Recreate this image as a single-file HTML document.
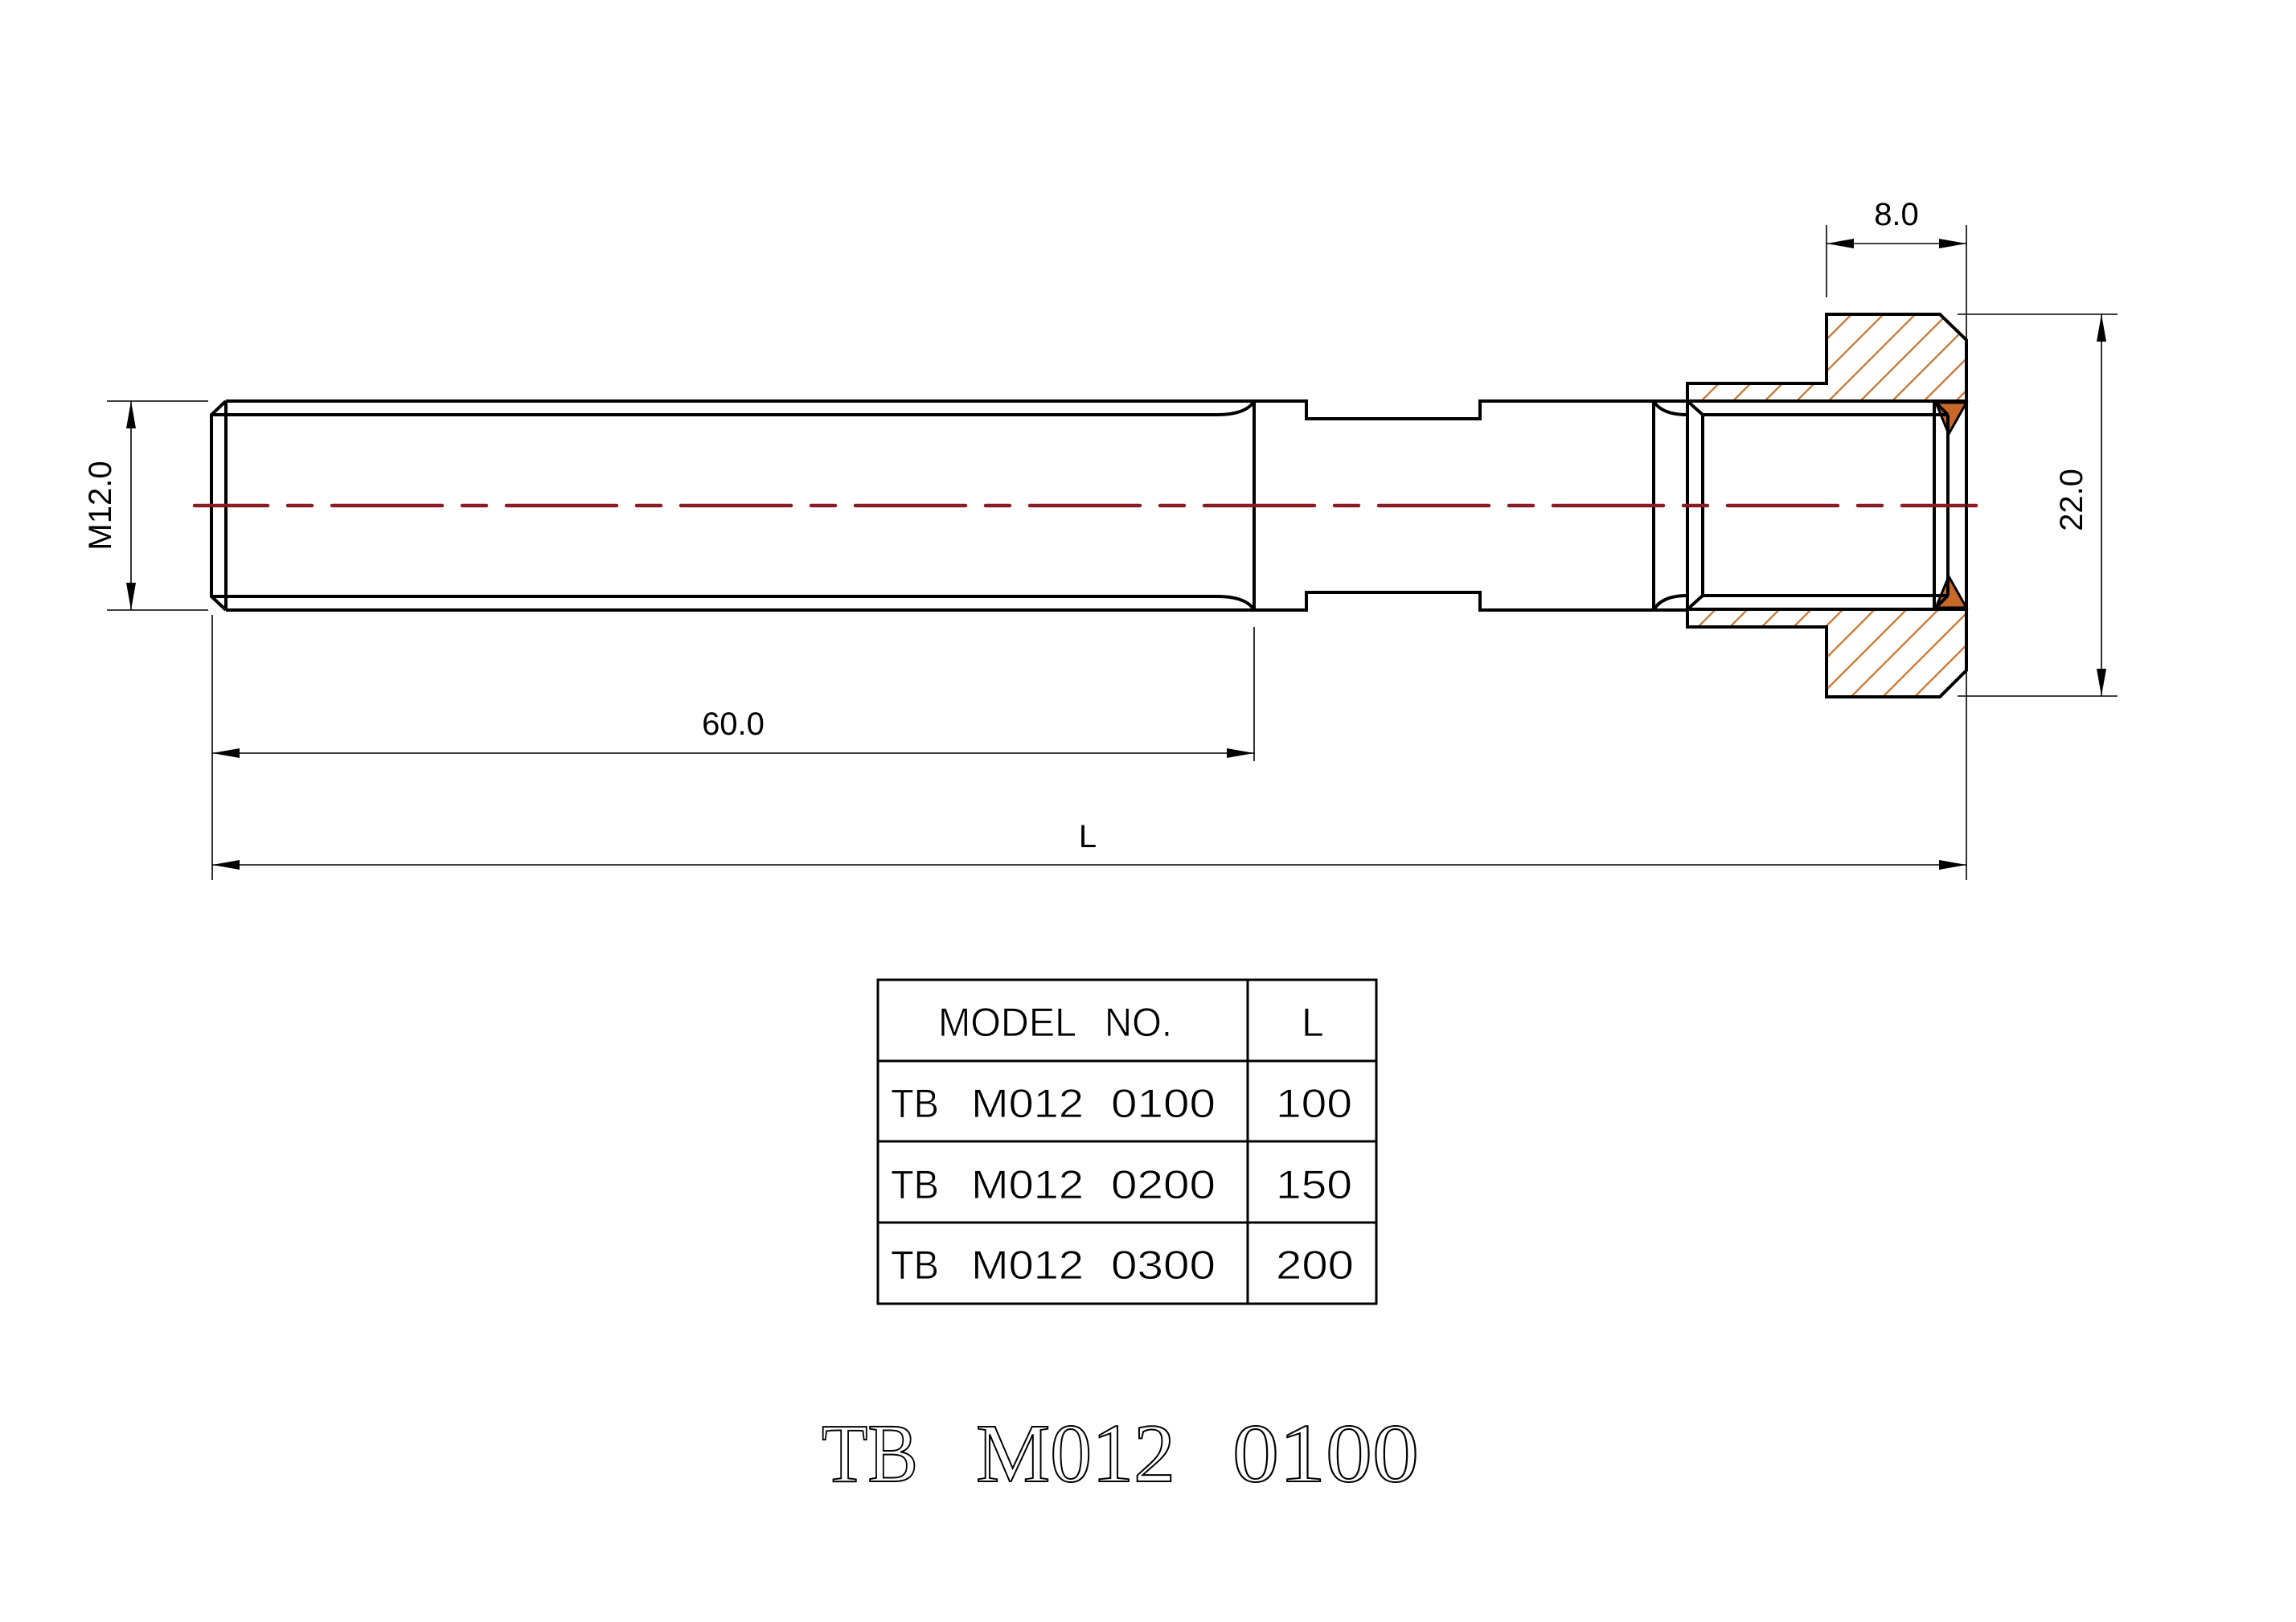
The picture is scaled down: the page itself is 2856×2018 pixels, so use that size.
<!DOCTYPE html>
<html><head><meta charset="utf-8"><style>html,body{margin:0;padding:0;background:#fff}svg{display:block}</style></head>
<body>
<svg width="2856" height="2018" viewBox="0 0 2856 2018" xmlns="http://www.w3.org/2000/svg">
<defs>
<pattern id="hatch" patternUnits="userSpaceOnUse" width="28" height="28" patternTransform="rotate(45)">
<line x1="0" y1="0" x2="0" y2="28" stroke="#c8742e" stroke-width="4.5"/>
</pattern>
<marker id="ar" markerWidth="34" markerHeight="12" refX="34" refY="6" orient="auto" markerUnits="userSpaceOnUse">
<path d="M0,0 L34,6 L0,12 Z" fill="#000"/>
</marker>
</defs>
<g fill="none" stroke="#000" stroke-width="4" stroke-linejoin="miter">
<path d="M281,499 L1625,499 L1625,521 L1841,521 L1841,499 L2099,499"/>
<path d="M281,759 L1625,759 L1625,737 L1841,737 L1841,759 L2099,759"/>
<path d="M281,499 L263,516 L263,742 L281,759"/>
<line x1="281" y1="499" x2="281" y2="759"/>
<path d="M263,516 L1513,516 Q1550,516 1560,499"/>
<path d="M263,742 L1513,742 Q1550,742 1560,759"/>
<line x1="1560" y1="499" x2="1560" y2="759"/>
<line x1="2057" y1="499" x2="2057" y2="759"/>
<path d="M2057,499 Q2067,516 2099,516"/>
<path d="M2057,759 Q2067,741 2099,741"/>
</g>
<path d="M2099,477 L2272,477 L2272,391 L2413,391 L2446,423 L2446,499 L2099,499 Z M2099,758 L2446,758 L2446,834 L2413,867 L2272,867 L2272,780 L2099,780 Z" fill="url(#hatch)"/>
<path d="M2408,501 L2446,501 L2424,540 Z M2408,756 L2446,756 L2424,717 Z" fill="#c8692a" stroke="#000" stroke-width="3"/>
<g fill="none" stroke="#000" stroke-width="4">
<path d="M2099,477 L2272,477 L2272,391 L2413,391 L2446,423 L2446,834 L2413,867 L2272,867 L2272,780 L2099,780 Z"/>
<line x1="2099" y1="499" x2="2446" y2="499"/>
<line x1="2099" y1="758" x2="2446" y2="758"/>
<line x1="2118" y1="516" x2="2423" y2="516"/>
<line x1="2118" y1="741" x2="2423" y2="741"/>
<line x1="2118" y1="516" x2="2118" y2="741"/>
<line x1="2406" y1="499" x2="2406" y2="758"/>
<line x1="2423" y1="516" x2="2423" y2="741"/>
<line x1="2099" y1="499" x2="2118" y2="516"/>
<line x1="2099" y1="758" x2="2118" y2="741"/>
<line x1="2406" y1="499" x2="2423" y2="516"/>
<line x1="2406" y1="758" x2="2423" y2="741"/>
</g>
<line x1="242" y1="629" x2="2458" y2="629" stroke="#8b1c22" stroke-width="4.5" stroke-linecap="round" stroke-dasharray="137 25 30 25" stroke-dashoffset="46"/>
<g stroke="#000" stroke-width="1.6" fill="none">
<line x1="133" y1="499" x2="259" y2="499"/>
<line x1="133" y1="759" x2="259" y2="759"/>
<line x1="163" y1="629" x2="163" y2="499" marker-end="url(#ar)"/>
<line x1="163" y1="629" x2="163" y2="759" marker-end="url(#ar)"/>
<line x1="2272" y1="280" x2="2272" y2="370"/>
<line x1="2446" y1="280" x2="2446" y2="1095"/>
<line x1="2359" y1="303" x2="2272" y2="303" marker-end="url(#ar)"/>
<line x1="2359" y1="303" x2="2446" y2="303" marker-end="url(#ar)"/>
<line x1="2435" y1="391" x2="2634" y2="391"/>
<line x1="2435" y1="866" x2="2634" y2="866"/>
<line x1="2614" y1="629" x2="2614" y2="391" marker-end="url(#ar)"/>
<line x1="2614" y1="629" x2="2614" y2="866" marker-end="url(#ar)"/>
<line x1="264" y1="765" x2="264" y2="1095"/>
<line x1="1560" y1="780" x2="1560" y2="947"/>
<line x1="912" y1="937" x2="264" y2="937" marker-end="url(#ar)"/>
<line x1="912" y1="937" x2="1560" y2="937" marker-end="url(#ar)"/>
<line x1="1355" y1="1076" x2="264" y2="1076" marker-end="url(#ar)"/>
<line x1="1355" y1="1076" x2="2446" y2="1076" marker-end="url(#ar)"/>
</g>
<g font-family="Liberation Sans, sans-serif" font-size="40" fill="#000" text-anchor="middle">
<text x="2359" y="280">8.0</text>
<text x="912" y="914">60.0</text>
<text x="1353" y="1054">L</text>
<text transform="translate(2590,622) rotate(-90)">22.0</text>
<text transform="translate(138,629) rotate(-90)">M12.0</text>
</g>
<g stroke="#000" stroke-width="3" fill="none">
<rect x="1092" y="1219" width="620" height="403"/>
<line x1="1552" y1="1219" x2="1552" y2="1622"/>
<line x1="1092" y1="1320" x2="1712" y2="1320"/>
<line x1="1092" y1="1420" x2="1712" y2="1420"/>
<line x1="1092" y1="1521" x2="1712" y2="1521"/>
</g>
<g font-family="Liberation Sans, sans-serif" font-size="50" fill="#000" stroke="#fff" stroke-width="0.8" lengthAdjust="spacingAndGlyphs">
<text x="1167" y="1289" textLength="172" lengthAdjust="spacingAndGlyphs">MODEL</text>
<text x="1374" y="1289" textLength="84" lengthAdjust="spacingAndGlyphs">NO.</text>
<text x="1619" y="1289">L</text>
<text x="1108" y="1390" textLength="60" lengthAdjust="spacingAndGlyphs">TB</text>
<text x="1208" y="1390" textLength="140" lengthAdjust="spacingAndGlyphs">M012</text>
<text x="1382" y="1390" textLength="130" lengthAdjust="spacingAndGlyphs">0100</text>
<text x="1108" y="1491" textLength="60" lengthAdjust="spacingAndGlyphs">TB</text>
<text x="1208" y="1491" textLength="140" lengthAdjust="spacingAndGlyphs">M012</text>
<text x="1382" y="1491" textLength="130" lengthAdjust="spacingAndGlyphs">0200</text>
<text x="1108" y="1591" textLength="60" lengthAdjust="spacingAndGlyphs">TB</text>
<text x="1208" y="1591" textLength="140" lengthAdjust="spacingAndGlyphs">M012</text>
<text x="1382" y="1591" textLength="130" lengthAdjust="spacingAndGlyphs">0300</text>
<text x="1587" y="1390" textLength="95" lengthAdjust="spacingAndGlyphs">100</text>
<text x="1587" y="1491" textLength="95" lengthAdjust="spacingAndGlyphs">150</text>
<text x="1587" y="1591" textLength="97" lengthAdjust="spacingAndGlyphs">200</text>
</g>
<g font-family="Liberation Serif, serif" font-size="104" fill="#fff" stroke="#000" stroke-width="2">
<text x="1022" y="1843" textLength="120" lengthAdjust="spacingAndGlyphs">TB</text>
<text x="1214" y="1843" textLength="248" lengthAdjust="spacingAndGlyphs">M012</text>
<text x="1533" y="1843" textLength="232" lengthAdjust="spacingAndGlyphs">0100</text>
</g>
</svg>
</body></html>
